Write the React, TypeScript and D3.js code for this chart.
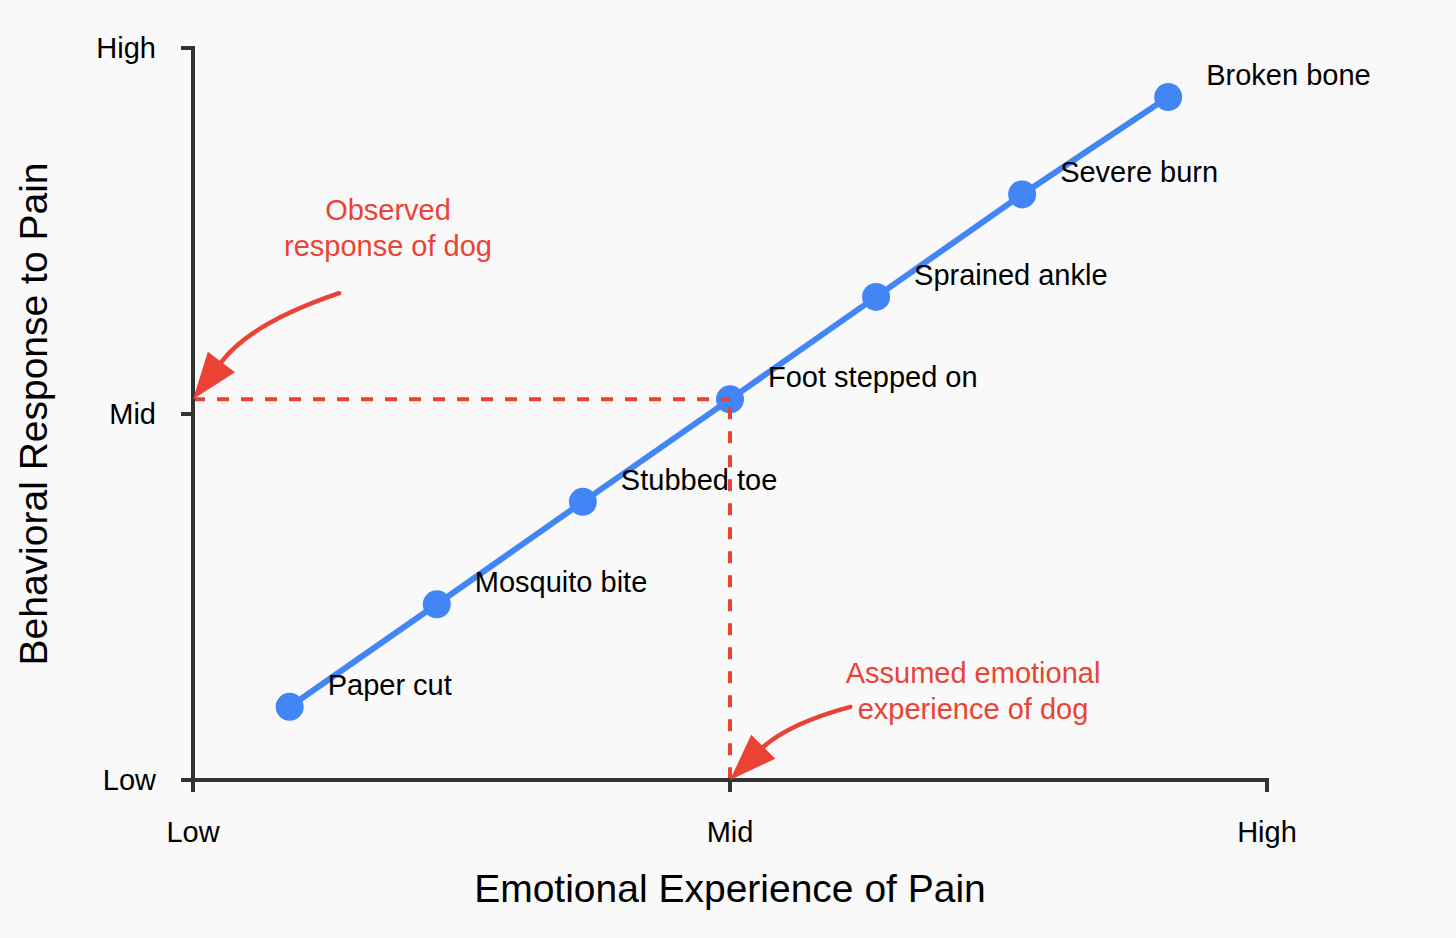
import React, { useEffect } from "react";
import * as d3 from "d3";

// ---- Data ----
const painLabels = [
  "Paper cut",
  "Mosquito bite",
  "Stubbed toe",
  "Foot stepped on",
  "Sprained ankle",
  "Severe burn",
  "Broken bone",
];
const emotionalValues = [0.9, 2.27, 3.63, 5.0, 6.36, 7.72, 9.08];
const behavioralValues = [1.0, 2.4, 3.8, 5.2, 6.6, 8.0, 9.33];

const tickValues = [0, 5, 10];
const tickLabels = ["Low", "Mid", "High"];

const xTitle = "Emotional Experience of Pain";
const yTitle = "Behavioral Response to Pain";

// annotation: observed response (horizontal) and assumed experience (vertical)
const observedLevel = 5.2;
const assumedLevel = 5.0;
const observedText = ["Observed", "response of dog"];
const assumedText = ["Assumed emotional", "experience of dog"];

// arrow geometry in data units: [start, control, baseCenter, tip]
const observedArrow = [
  [1.36, 6.65],
  [0.537, 6.24],
  [0.264, 5.71],
  [0, 5.2],
];
const assumedArrow = [
  [6.12, 1.0],
  [5.55, 0.775],
  [5.3, 0.44],
  [5.0, 0.0],
];

const W = 1456;
const H = 938;
const BLUE = "#4285F4";
const RED = "#EA4335";
const AXIS = "#333333";
const FONT = "'Liberation Sans', Arial, Helvetica, sans-serif";

export default function App() {
  useEffect(() => {
    document.body.style.margin = "0";
  }, []);

  const x = d3.scaleLinear().domain([0, 10]).range([193, 1267]);
  const y = d3.scaleLinear().domain([0, 10]).range([780, 48]);

  const pts = emotionalValues.map((v, i) => ({
    label: painLabels[i],
    x: x(v),
    y: y(behavioralValues[i]),
  }));
  const line = d3
    .line<{ x: number; y: number }>()
    .x((d) => d.x)
    .y((d) => d.y);

  const arrow = (geo: number[][]) => {
    const [s, c, b, t] = geo.map(([a, bb]) => [x(a), y(bb)]);
    const p = d3.path();
    p.moveTo(s[0], s[1]);
    p.quadraticCurveTo(c[0], c[1], b[0], b[1]);
    const dx = t[0] - b[0];
    const dy = t[1] - b[1];
    const len = Math.hypot(dx, dy);
    const ux = dx / len;
    const uy = dy / len;
    const hw = 17;
    const headLen = 47;
    const bx = t[0] - ux * headLen;
    const by = t[1] - uy * headLen;
    const head = [
      [t[0], t[1]],
      [bx - uy * hw, by + ux * hw],
      [bx + uy * hw, by - ux * hw],
    ];
    return (
      <g>
        <path d={p.toString()} fill="none" stroke={RED} strokeWidth={4.5} strokeLinecap="round" />
        <polygon points={head.map((q) => q.join(",")).join(" ")} fill={RED} />
      </g>
    );
  };

  return (
    <svg width={W} height={H} style={{ display: "block", background: "#f9f9f9" }} fontFamily={FONT}>
      <rect width={W} height={H} fill="#f9f9f9" />

      {/* data line and markers */}
      <path d={line(pts) || ""} fill="none" stroke={BLUE} strokeWidth={6} />
      {pts.map((p, i) => (
        <circle key={i} cx={p.x} cy={p.y} r={14} fill={BLUE} />
      ))}
      {pts.map((p, i) => (
        <text key={"l" + i} x={p.x + 38} y={p.y - 12} fontSize={29} fill="#000">
          {p.label}
        </text>
      ))}

      {/* dashed guide lines */}
      <line
        x1={x(0)}
        x2={x(assumedLevel)}
        y1={y(observedLevel)}
        y2={y(observedLevel)}
        stroke={RED}
        strokeWidth={4}
        strokeDasharray="12 12"
      />
      <line
        x1={x(assumedLevel)}
        x2={x(assumedLevel)}
        y1={y(observedLevel) + 8}
        y2={y(0)}
        stroke={RED}
        strokeWidth={4}
        strokeDasharray="12 12"
      />

      {/* axes */}
      <line x1={x(0)} x2={x(0)} y1={y(10) - 2} y2={y(0) + 12} stroke={AXIS} strokeWidth={4} />
      <line x1={x(0) - 2} x2={x(10) + 2} y1={y(0)} y2={y(0)} stroke={AXIS} strokeWidth={4} />
      {tickValues.map((t, i) => (
        <g key={"yt" + i}>
          <line x1={x(0) - 12} x2={x(0)} y1={y(t)} y2={y(t)} stroke={AXIS} strokeWidth={4} />
          <text x={156} y={y(t)} dy="0.36em" textAnchor="end" fontSize={29} fill="#000">
            {tickLabels[i]}
          </text>
        </g>
      ))}
      {tickValues.map((t, i) => (
        <g key={"xt" + i}>
          <line x1={x(t)} x2={x(t)} y1={y(0)} y2={y(0) + 12} stroke={AXIS} strokeWidth={4} />
          <text x={x(t)} y={842} textAnchor="middle" fontSize={29} fill="#000">
            {tickLabels[i]}
          </text>
        </g>
      ))}

      {/* axis titles */}
      <text x={x(5)} y={902} textAnchor="middle" fontSize={39} fill="#000">
        {xTitle}
      </text>
      <text
        transform={`translate(47, ${y(5)}) rotate(-90)`}
        textAnchor="middle"
        fontSize={39}
        fill="#000"
      >
        {yTitle}
      </text>

      {/* annotations */}
      {arrow(observedArrow)}
      {arrow(assumedArrow)}
      {observedText.map((s, i) => (
        <text key={"o" + i} x={388} y={220 + i * 36} textAnchor="middle" fontSize={29} fill={RED}>
          {s}
        </text>
      ))}
      {assumedText.map((s, i) => (
        <text key={"a" + i} x={973} y={683 + i * 36} textAnchor="middle" fontSize={29} fill={RED}>
          {s}
        </text>
      ))}
    </svg>
  );
}
